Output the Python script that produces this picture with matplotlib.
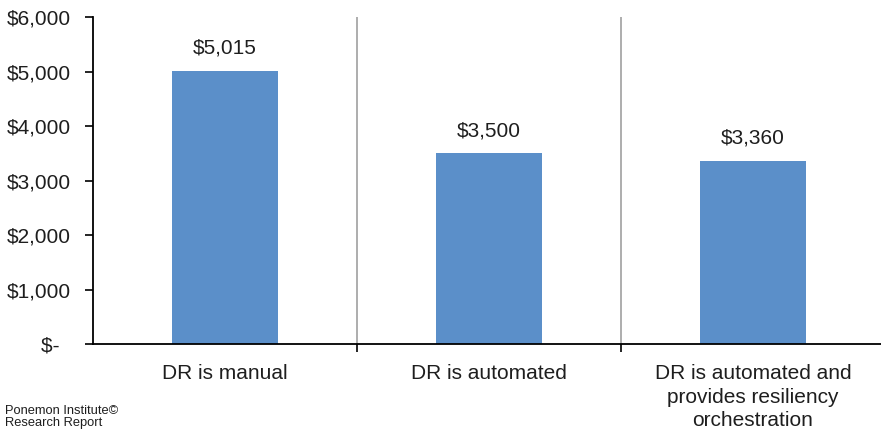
import matplotlib.pyplot as plt
from matplotlib.ticker import FuncFormatter

categories = ["DR is manual", "DR is automated",
              "DR is automated and\nprovides resiliency\norchestration"]
values = [5015, 3500, 3360]
y_ticks = [0, 1000, 2000, 3000, 4000, 5000, 6000]

plt.rcParams["font.family"] = ["Liberation Sans", "DejaVu Sans"]
txt = "#1e1e1e"

fig = plt.figure(figsize=(8.81, 4.29), dpi=100)
ax = fig.add_axes([93 / 881, 85 / 429, 792 / 881, 327 / 429])

x = range(len(categories))
ax.bar(x, values, width=0.405, color="#5b8fc9", zorder=2)
for xi, v in zip(x, values):
    ax.text(xi, v + 240, f"${v:,}", ha="center", va="bottom", fontsize=15, color=txt)

ax.set_xlim(-0.5, len(categories) - 0.5)
ax.set_ylim(0, 6000)
ax.set_yticks(y_ticks)
ax.yaxis.set_major_formatter(FuncFormatter(lambda v, p: "$-\u2007" if v == 0 else f"${v:,.0f}"))

# separators between categories
for b in [0.5, 1.5]:
    ax.axvline(b, color="#a0a0a0", lw=1.2, zorder=1)
ax.set_xticks([0.5, 1.5], minor=True)
ax.set_xticks(list(x))
ax.set_xticklabels(categories, fontsize=15, va="top", linespacing=1.3, color=txt)
ax.tick_params(axis="x", which="major", length=0, pad=14.5)
ax.tick_params(axis="x", which="minor", length=6, width=1.2, direction="out")
ax.tick_params(axis="y", length=6, width=1.2, direction="out", labelsize=15,
               pad=10, labelcolor=txt)

for s in ["top", "right"]:
    ax.spines[s].set_visible(False)
ax.spines["left"].set_linewidth(1.3)
ax.spines["bottom"].set_linewidth(1.3)

fig.text(5 / 881, 1 - 417 / 429, "Ponemon Institute©\nResearch Report",
         fontsize=9.3, va="center", ha="left", linespacing=1.05, color=txt)

fig.savefig("out.png", dpi=100)
